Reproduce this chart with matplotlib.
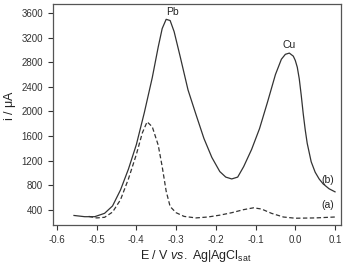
import matplotlib
matplotlib.use('Agg')
import matplotlib.pyplot as plt
import numpy as np

# stripping voltammograms, E (V) vs i (uA)
E_b = [-0.557, -0.53, -0.505, -0.48, -0.46, -0.44, -0.42, -0.40, -0.38, -0.36,
       -0.345, -0.335, -0.325, -0.315, -0.305, -0.29, -0.27, -0.25, -0.23, -0.21,
       -0.19, -0.175, -0.16, -0.145, -0.13, -0.11, -0.09, -0.07, -0.05, -0.035,
       -0.025, -0.015, -0.005, 0.0, 0.005, 0.01, 0.015, 0.02, 0.025, 0.03, 0.04,
       0.05, 0.06, 0.07, 0.085, 0.10]
i_b = [305, 285, 285, 340, 460, 720, 1060, 1460, 1980, 2550,
       3050, 3350, 3500, 3480, 3300, 2900, 2350, 1950, 1560, 1250,
       1020, 930, 900, 930, 1100, 1380, 1720, 2150, 2600, 2850,
       2930, 2950, 2900, 2830, 2720, 2530, 2260, 1960, 1700, 1480, 1180,
       1010, 900, 820, 740, 690]

E_a = [-0.52, -0.50, -0.48, -0.46, -0.44, -0.42, -0.40, -0.385, -0.373, -0.36,
       -0.345, -0.335, -0.325, -0.315, -0.30, -0.28, -0.25, -0.22, -0.19, -0.16,
       -0.13, -0.105, -0.085, -0.06, -0.03, 0.0, 0.05, 0.10]
i_a = [290, 265, 275, 360, 560, 900, 1300, 1650, 1830, 1750,
       1450, 1100, 700, 450, 350, 290, 265, 280, 310, 350,
       400, 430, 410, 340, 280, 260, 265, 280]

XTICKS = [-0.6, -0.5, -0.4, -0.3, -0.2, -0.1, 0.0, 0.1]
YTICKS = [400, 800, 1200, 1600, 2000, 2400, 2800, 3200, 3600]

plt.rcParams['font.family'] = ['Liberation Sans', 'DejaVu Sans']
plt.rcParams['mathtext.fontset'] = 'custom'
plt.rcParams['mathtext.rm'] = 'Liberation Sans'
plt.rcParams['mathtext.it'] = 'Liberation Sans:italic'

fig = plt.figure(figsize=(3.46, 2.65), dpi=100)
ax = fig.add_axes([0.153, 0.151, 0.8325, 0.834])
ax.plot(E_b, i_b, color='#333333', lw=0.9)
ax.plot(E_a, i_a, color='#333333', lw=0.9, ls=(0, (3.5, 2)))

ax.set_xlim(-0.61, 0.115)
ax.set_ylim(150, 3750)
ax.set_xticks(XTICKS)
ax.set_xticklabels(['-0.6', '-0.5', '-0.4', '-0.3', '-0.2', '-0.1', '0.0', '0.1'])
ax.set_yticks(YTICKS)
ax.tick_params(direction='out', length=3.5, width=0.8, labelsize=7,
               colors='#333333', pad=3.5)
for s in ax.spines.values():
    s.set_color('#555555')
    s.set_linewidth(0.9)

ax.text(-0.31, 3620, 'Pb', fontsize=7.5, ha='center', va='center', color='#222222')
ax.text(-0.016, 3080, 'Cu', fontsize=7.5, ha='center', va='center', color='#222222')
ax.text(0.082, 890, '(b)', fontsize=7.5, ha='center', va='center', color='#222222')
ax.text(0.082, 480, '(a)', fontsize=7.5, ha='center', va='center', color='#222222')

fig.text(0.03, 0.60, r'i / $\mathrm{\mu}$A', rotation=90, fontsize=9,
         ha='center', va='center', color='#222222')
fig.text(0.565, 0.035, r'E / V $\it{vs.}$ Ag|AgCl$_{\rm sat}$', fontsize=9,
         ha='center', va='center', color='#222222')

fig.savefig('out.png', dpi=100)
